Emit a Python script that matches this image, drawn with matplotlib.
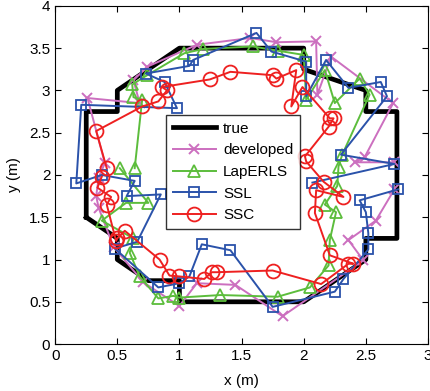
import numpy as np
import matplotlib.pyplot as plt

plt.rcParams['font.family'] = ['Liberation Sans', 'DejaVu Sans']

# reference path
true_x = [0.25, 0.25, 0.5, 0.5, 1.0, 2.0, 2.0, 2.5, 2.5, 2.75, 2.75, 2.5, 2.5,
          2.25, 2.0, 1.0, 1.0, 0.75, 0.5, 0.5, 0.25]
true_y = [1.5, 2.75, 2.75, 3.0, 3.5, 3.5, 3.25, 3.0, 2.75, 2.75, 1.25, 1.25, 1.0,
          0.75, 0.5, 0.5, 0.75, 0.75, 1.0, 1.25, 1.5]

# developed method
dev_x = [2.73, 2.58, 2.36, 2.48, 1.83, 1.45, 1.14, 1.00, 0.71, 0.47, 0.35, 0.33,
         0.35, 0.40, 0.26, 0.68, 0.63, 0.74, 1.14, 1.57, 1.78, 2.10, 2.11, 2.22,
         2.72, 2.49, 2.41, 2.73]
dev_y = [1.83, 1.46, 1.23, 0.99, 0.33, 0.70, 0.72, 0.45, 0.73, 1.15, 1.61, 1.75,
         1.97, 2.14, 2.91, 2.85, 3.12, 3.28, 3.54, 3.62, 3.57, 3.58, 2.95, 3.40,
         2.85, 2.21, 2.15, 2.15]

# LapERLS
lap_x = [0.64, 0.70, 0.63, 0.62, 0.74, 1.04, 1.19, 1.59, 1.79, 2.00, 2.02, 2.17,
         2.25, 2.45, 2.53, 2.31, 2.28, 2.27, 2.17, 2.26, 2.21, 2.20, 2.05, 1.79,
         1.33, 1.00, 0.95, 0.83, 0.68, 0.60, 0.63, 0.375, 0.57, 0.75, 0.52]
lap_y = [2.08, 2.89, 2.92, 3.07, 3.18, 3.44, 3.49, 3.52, 3.47, 3.42, 2.89, 3.24,
         2.85, 3.14, 2.95, 2.24, 2.10, 1.87, 1.65, 1.56, 1.23, 0.93, 0.67, 0.56,
         0.58, 0.55, 0.57, 0.54, 0.80, 1.08, 1.25, 1.46, 1.67, 1.67, 2.08]

# SSL
ssl_x = [2.07, 2.73, 2.30, 2.67, 2.62, 2.36, 2.18, 2.02, 2.02, 1.74, 1.62, 1.11,
         1.08, 0.73, 0.88, 0.98, 0.21, 0.17, 0.375, 0.64, 0.575, 0.85, 0.66, 0.48,
         0.83, 1.00, 1.08, 1.18, 1.41, 1.75, 2.25, 2.32, 2.52, 2.52, 2.50, 2.45,
         2.76]
ssl_y = [1.91, 2.13, 2.24, 2.93, 3.10, 3.03, 3.36, 2.93, 3.34, 3.46, 3.68, 3.36,
         3.29, 3.20, 3.10, 2.79, 2.83, 1.90, 2.00, 1.93, 1.75, 1.77, 1.21, 1.13,
         0.67, 0.72, 0.80, 1.18, 1.11, 0.44, 0.62, 0.77, 1.12, 1.31, 1.56, 1.70,
         1.83]

# SSC
ssc_x = [0.415, 0.33, 0.70, 0.83, 0.90, 0.86, 1.245, 1.41, 1.75, 1.78, 1.94, 1.90,
         1.99, 2.21, 2.24, 2.20, 2.01, 2.02, 2.16, 2.32, 2.10, 2.09, 2.21, 2.40,
         2.36, 2.14, 1.75, 1.30, 1.26, 1.20, 1.00, 0.92, 0.84, 0.56, 0.50, 0.49,
         0.415, 0.45, 0.34, 0.375]
ssc_y = [2.08, 2.52, 2.81, 2.87, 3.00, 3.04, 3.13, 3.22, 3.18, 3.14, 3.24, 2.81,
         3.04, 2.67, 2.67, 2.57, 2.22, 2.16, 1.92, 1.74, 1.82, 1.55, 1.05, 0.95,
         0.95, 0.71, 0.87, 0.85, 0.85, 0.77, 0.80, 0.81, 1.00, 1.34, 1.25, 1.22,
         1.65, 1.74, 1.85, 1.98]

fig = plt.figure(figsize=(4.31, 3.91), dpi=100)
ax = fig.add_axes([0.128, 0.12, 0.865, 0.865])

ax.plot(true_x, true_y, color='black', lw=3.4, label='true', zorder=2)
ax.plot(dev_x, dev_y, color='#cc6fbf', lw=1.4, marker='x', ms=7, mew=1.4,
        label='developed', zorder=3)
ax.plot(lap_x, lap_y, color='#5cbd3c', lw=1.4, marker='^', ms=8.5, mew=1.3,
        mfc='none', label='LapERLS', zorder=4)
ax.plot(ssl_x, ssl_y, color='#2a52aa', lw=1.4, marker='s', ms=7.5, mew=1.3,
        mfc='none', label='SSL', zorder=5)
ax.plot(ssc_x, ssc_y, color='#ee2020', lw=1.4, marker='o', ms=10, mew=1.3,
        mfc='none', label='SSC', zorder=6)

ax.set_xlim(0, 3)
ax.set_ylim(0, 4)
ax.set_xticks(np.arange(0, 3.01, 0.5))
ax.set_yticks(np.arange(0, 4.01, 0.5))
ax.set_xticklabels(['0', '0.5', '1', '1.5', '2', '2.5', '3'])
ax.set_yticklabels(['0', '0.5', '1', '1.5', '2', '2.5', '3', '3.5', '4'])
ax.tick_params(direction='in', top=True, right=True, labelsize=11, length=4)
ax.set_xlabel('x (m)', fontsize=11, labelpad=8)
ax.set_ylabel('y (m)', fontsize=11, labelpad=6)

leg = ax.legend(loc='upper left', bbox_to_anchor=(0.297, 0.678), fontsize=11,
                frameon=True, fancybox=False, edgecolor='black', handlelength=2.8,
                borderpad=0.45, labelspacing=0.5, handletextpad=0.5,
                borderaxespad=0)
leg.get_frame().set_linewidth(1.0)
leg.set_zorder(10)

fig.savefig('out.png', dpi=100)
